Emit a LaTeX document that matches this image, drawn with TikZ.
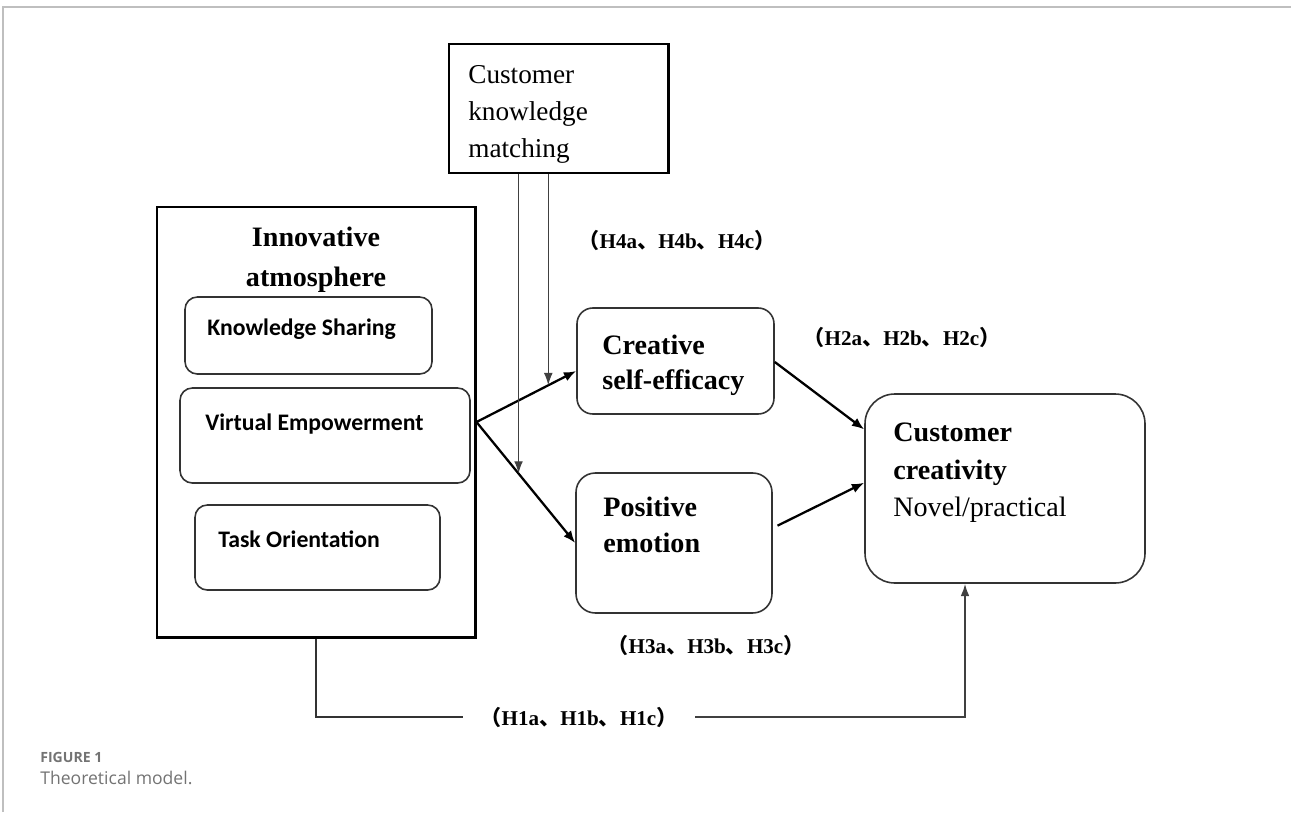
\documentclass[tikz,border=0pt]{standalone}
\usepackage{fontspec}
\setmainfont{Liberation Serif}
\newfontfamily\calib{Carlito}
\newfontfamily\capfont{Open Sans}
\newfontfamily\cjk{Noto Sans CJK SC}
\usetikzlibrary{positioning}
\usetikzlibrary{fit}
\usetikzlibrary{calc}
\usetikzlibrary{arrows.meta}
\tikzset{
  box/.style = {draw, line width = 1.7pt, inner sep = 0},
  rbox/.style = {draw = black!80, line width = 0.9pt, rounded corners = 7pt, inner sep = 0},
  txt/.style = {inner sep = 0, anchor = north west, align = left, font = \fontsize{15.5}{21}\selectfont},
  sub/.style = {txt, font = \calib\bfseries\fontsize{13.5}{16}\selectfont},
  hyp/.style = {inner sep = 0, font = \bfseries\fontsize{12}{14}\selectfont},
  link/.style = {line width = 1.3pt, -{Latex[length=7pt,width=5.5pt]}},
  modline/.style = {draw = black!75, line width = 0.8pt, -{Latex[length=7pt,width=5pt]}}
}
\newcommand{\hyps}[1]{{\cjk （}H#1a{\cjk 、}H#1b{\cjk 、}H#1c{\cjk ）}}

\begin{document}
\begin{tikzpicture}[x=0.02cm, y=-0.02cm]
    \useasboundingbox (0,0) rectangle (1291,812);
    \draw[black!25, line width = 1pt] (3,812) |- (1291,7); % page frame

    % boxes
    \node[box, fit = {(449,44) (668,173)}] (ckm) {};
    \node[box, fit = {(157,207) (475,637)}] (ia) {};
    \node[rbox, fit = {(185,297) (432,374)}] (ks) {};
    \node[rbox, fit = {(180,388) (470,483)}] (ve) {};
    \node[rbox, fit = {(195,505) (440,590)}] (to) {};
    \node[rbox, rounded corners = 9pt, fit = {(577,308) (774,414)}] (cse) {};
    \node[rbox, rounded corners = 11pt, fit = {(576,473) (772,613)}] (pe) {};
    \node[rbox, rounded corners = 17pt, fit = {(865,394) (1145,583)}] (cc) {};

    % texts
    \node[txt] (ckmt) at (468,65) {Customer\\knowledge\\matching};
    \node[txt, anchor = north, align = center, font = \bfseries\fontsize{16}{22.7}\selectfont] (iat) at (316,227) {Innovative\\atmosphere};
    \node[sub] (kst) at (207,318) {Knowledge Sharing};
    \node[sub] (vet) at (205,413) {Virtual Empowerment};
    \node[sub] (tot) at (218,530) {Task Orientation};
    \node[txt, font = \bfseries\fontsize{16}{19.8}\selectfont] (cset) at (602,335) {Creative\\self-efficacy};
    \node[txt, font = \bfseries\fontsize{16}{20.4}\selectfont] (pet) at (603,497) {Positive\\emotion};
    \node[txt, font = \fontsize{16}{21.2}\selectfont] (cct) at (893,423) {\textbf{Customer}\\\textbf{creativity}\\Novel/practical};

    \node[hyp] (h4) at (677,240) {\hyps{4}};
    \node[hyp] (h2) at (902,337) {\hyps{2}};
    \node[hyp] (h3) at (706,645) {\hyps{3}};
    \node[hyp, inner xsep = 10pt] (h1) at (579,717) {\hyps{1}};

    % paths
    \coordinate (cin) at ($(cse.west)+(0,10)$);
    \draw[link] (ia.east) -- (cin);
    \draw[link] (ia.east) -- (pe.west);
    \draw[link] ($(cse.east)+(0,1)$) -- ($(cc.north west)!0.19!(cc.south west)$);
    \draw[link, shorten <= 3pt] ($(pe.east)+(0,-15)$) -- ($(cc.north west)!0.47!(cc.south west)$);

    \coordinate (m1) at ($(ia.east)!0.72!(cin)$);
    \coordinate (m2) at ($(ia.east)!0.426!(pe.west)$);
    \draw[modline] (m1 |- ckm.south) -- (m1);
    \draw[modline] (m2 |- ckm.south) -- (m2);

    \draw[black!80, line width = 1pt] (ia.south) |- (h1.west);
    \draw[modline, line width = 1pt] (h1.east) -| ($(cc.south)+(-40,0)$);

    % caption
    \node[anchor = west, inner sep = 0, text = black!55, font = \capfont\bfseries\fontsize{8}{10}\selectfont] (fig) at (40,757) {FIGURE 1};
    \node[anchor = west, inner sep = 0, text = black!55, font = \capfont\fontsize{10}{12}\selectfont] (cap) at (40,778) {Theoretical model.};
\end{tikzpicture}
\end{document}
